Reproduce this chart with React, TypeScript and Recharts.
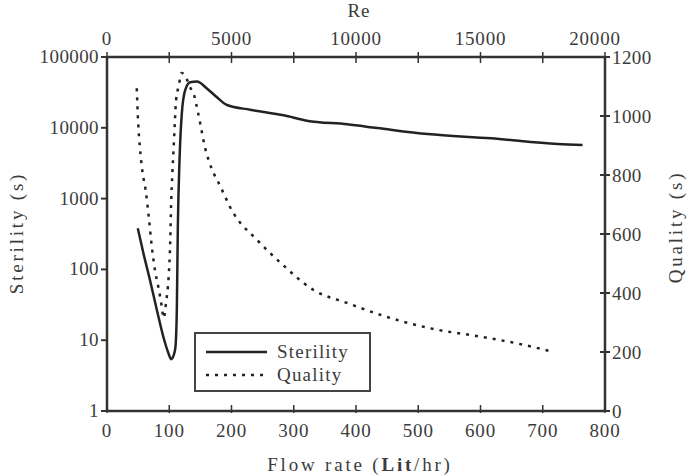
import { ComposedChart, Line, XAxis, YAxis, Legend, Label } from "recharts";

const flowTicks = [0, 100, 200, 300, 400, 500, 600, 700, 800];
const reTicks = [0, 2500, 5000, 7500, 10000, 12500, 15000, 17500, 20000];
const sterilityTicks = [1, 10, 100, 1000, 10000, 100000];
const qualityTicks = [0, 200, 400, 600, 800, 1000, 1200];

// flow rate (Lit/hr) -> sterility (s), log axis
const sterilityFlow = [49.5, 58.5, 69, 80, 90.7, 98.8, 103, 108, 110, 112.2, 113.8, 116.5, 120.2, 125.6, 133.6, 144.4, 160.5, 176.6, 192.7, 230, 284, 321, 386, 434, 515, 617, 724, 764];
const sterilityValues = [380, 169, 71, 27, 11, 6.5, 5.4, 6.5, 8.1, 28, 400, 3500, 16000, 34000, 44000, 45000, 36000, 27000, 21000, 18000, 15000, 12600, 11200, 9930, 8150, 7110, 5890, 5710];

// flow rate (Lit/hr) -> quality (s)
const qualityFlow = [47.8, 50, 53, 57, 62, 67, 72, 77, 83, 88, 91, 95, 99, 101.5, 103, 105, 107, 109, 111, 115, 120, 128, 134, 139, 145.4, 149.7, 157.8, 163.2, 171.2, 177, 203, 241, 279, 332, 386, 445, 520, 600, 659, 710];
const qualityValues = [1094, 980, 890, 810, 750, 660, 557, 478, 415, 354, 315, 370, 455, 568, 700, 806, 890, 980, 1054, 1100, 1146, 1125, 1095, 1077, 1020, 975, 890, 851, 806, 783, 671, 580, 502, 410, 366, 322, 280, 252, 229, 204];

const sterilityData = sterilityFlow.map((f, i) => ({ flow: f, value: sterilityValues[i] }));
const qualityData = qualityFlow.map((f, i) => ({ flow: f, value: qualityValues[i] }));
// empty anchor rows so the top Re axis gets drawn (no values plotted)
const reAnchor = reTicks.map((r) => ({ re: r, value: null }));

const FONT = "'Liberation Serif', 'Times New Roman', serif";
const TEXT = "#3c3c3c";
const AXIS = "#333";

const BottomTick = ({ x, y, payload }: any) => (
  <g>
    <line x1={x} y1={y - 6} x2={x} y2={y + 2} stroke={AXIS} strokeWidth={1.5} />
    <text x={x} y={y + 26} textAnchor="middle" fontSize={19} fill={TEXT} fontFamily={FONT} letterSpacing={0.8}>
      {payload.value}
    </text>
  </g>
);

const TopTick = ({ x, y, payload }: any) => (
  <g>
    <line x1={x} y1={y - 5} x2={x} y2={y + 6} stroke={AXIS} strokeWidth={1.5} />
    {payload.value % 5000 === 0 && (
      <text
        x={payload.value === 20000 ? x - 10 : x}
        y={y - 12}
        textAnchor="middle"
        fontSize={19}
        fill={TEXT}
        fontFamily={FONT}
        letterSpacing={0.8}
      >
        {payload.value}
      </text>
    )}
  </g>
);

const LeftTick = ({ x, y, payload }: any) => (
  <g>
    <line x1={x - 6} y1={y} x2={x + 1} y2={y} stroke={AXIS} strokeWidth={2} />
    <text x={x - 8} y={y + 6} textAnchor="end" fontSize={19} fill={TEXT} fontFamily={FONT} letterSpacing={0.4}>
      {payload.value}
    </text>
  </g>
);

const RightTick = ({ x, y, payload }: any) => (
  <g>
    <line x1={x - 5} y1={y} x2={x + 5} y2={y} stroke={AXIS} strokeWidth={2} />
    <text x={x + 7} y={y + 7} textAnchor="start" fontSize={19} fill={TEXT} fontFamily={FONT} letterSpacing={0.4}>
      {payload.value}
    </text>
  </g>
);

const LegendBox = () => (
  <div
    style={{
      width: 177,
      height: 60,
      boxSizing: "border-box",
      border: "2px solid #444",
      background: "#fff",
      position: "relative",
    }}
  >
    <svg width={173} height={56} style={{ position: "absolute", left: 0, top: 0 }}>
      <line x1={10} y1={18} x2={71} y2={18} stroke="#222" strokeWidth={2.5} />
      <line x1={10} y1={41} x2={71} y2={41} stroke="#222" strokeWidth={2.5} strokeDasharray="3 6" />
      <text x={81} y={24} fontSize={19} fill={TEXT} fontFamily={FONT} letterSpacing={1.2}>Sterility</text>
      <text x={81} y={47} fontSize={19} fill={TEXT} fontFamily={FONT} letterSpacing={1.2}>Quality</text>
    </svg>
  </div>
);

export default function App() {
  return (
    <div style={{ position: "absolute", left: 0, top: 0, background: "#fff" }}>
      <ComposedChart width={688} height={476} margin={{ top: 0, right: 0, bottom: 0, left: 0 }}>
        <XAxis
          xAxisId="flow"
          dataKey="flow"
          type="number"
          domain={[0, 800]}
          ticks={flowTicks}
          allowDataOverflow
          height={65}
          tickSize={0}
          tickMargin={0}
          tickLine={false}
          tick={<BottomTick />}
          axisLine={{ stroke: AXIS, strokeWidth: 2.5 }}
        >
          <Label
            content={() => (
              <text x={360} y={471} textAnchor="middle" fontSize={19} fill={TEXT} fontFamily={FONT} letterSpacing={2.8}>
                Flow rate (<tspan fontWeight="bold">Lit</tspan>/hr)
              </text>
            )}
          />
        </XAxis>
        <XAxis
          xAxisId="re"
          dataKey="re"
          orientation="top"
          type="number"
          domain={[0, 20000]}
          ticks={reTicks}
          allowDataOverflow
          height={57}
          tickSize={0}
          tickMargin={0}
          tickLine={false}
          tick={<TopTick />}
          axisLine={{ stroke: AXIS, strokeWidth: 2.5 }}
        >
          <Label
            content={() => (
              <text x={359} y={17} textAnchor="middle" fontSize={19} fill={TEXT} fontFamily={FONT} letterSpacing={1}>
                Re
              </text>
            )}
          />
        </XAxis>
        <YAxis
          yAxisId="ster"
          scale="log"
          type="number"
          domain={[1, 100000]}
          ticks={sterilityTicks}
          allowDataOverflow
          width={107}
          tickSize={0}
          tickMargin={0}
          tickLine={false}
          tick={<LeftTick />}
          axisLine={{ stroke: AXIS, strokeWidth: 2.5 }}
        >
          <Label
            content={() => (
              <text
                x={23}
                y={233}
                transform="rotate(-90 23 233)"
                textAnchor="middle"
                fontSize={19}
                fill={TEXT}
                fontFamily={FONT}
                letterSpacing={2.8}
              >
                Sterility (s)
              </text>
            )}
          />
        </YAxis>
        <YAxis
          yAxisId="qual"
          orientation="right"
          type="number"
          domain={[0, 1200]}
          ticks={qualityTicks}
          allowDataOverflow
          width={83}
          tickSize={0}
          tickMargin={0}
          tickLine={false}
          tick={<RightTick />}
          axisLine={{ stroke: AXIS, strokeWidth: 2.5 }}
        >
          <Label
            content={() => (
              <text
                x={682}
                y={227}
                transform="rotate(-90 682 227)"
                textAnchor="middle"
                fontSize={19}
                fill={TEXT}
                fontFamily={FONT}
                letterSpacing={2.8}
              >
                Quality (s)
              </text>
            )}
          />
        </YAxis>
        <Line
          data={reAnchor}
          xAxisId="re"
          yAxisId="qual"
          dataKey="value"
          stroke="none"
          dot={false}
          activeDot={false}
          legendType="none"
          isAnimationActive={false}
        />
        <Line
          data={sterilityData}
          xAxisId="flow"
          yAxisId="ster"
          dataKey="value"
          type="monotone"
          stroke="#222"
          strokeWidth={2.5}
          dot={false}
          activeDot={false}
          isAnimationActive={false}
        />
        <Line
          data={qualityData}
          xAxisId="flow"
          yAxisId="qual"
          dataKey="value"
          type="monotone"
          stroke="#222"
          strokeWidth={2.5}
          strokeDasharray="3 6"
          dot={false}
          activeDot={false}
          isAnimationActive={false}
        />
        <Legend
          layout="vertical"
          align="center"
          verticalAlign="middle"
          content={<LegendBox />}
          wrapperStyle={{ position: "absolute", left: 194, top: 332, width: 177, height: 60 }}
        />
      </ComposedChart>
    </div>
  );
}
